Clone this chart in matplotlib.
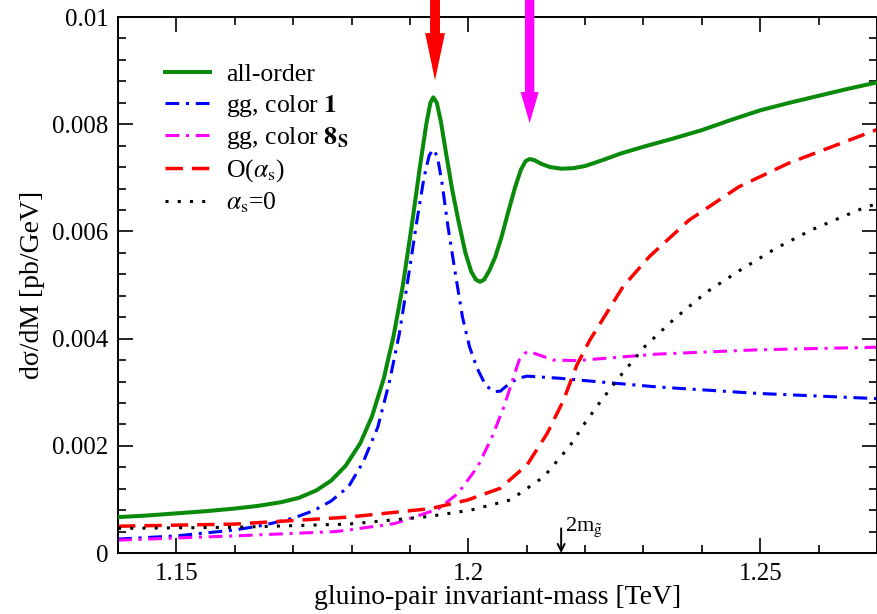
import numpy as np
import matplotlib
matplotlib.use("Agg")
import matplotlib.pyplot as plt
from matplotlib.patches import FancyArrow
from matplotlib.ticker import MultipleLocator, FuncFormatter

plt.rcParams['font.family'] = ['Liberation Serif', 'DejaVu Serif']
plt.rcParams['mathtext.fontset'] = 'stix'

# all-order (green solid)
x_all = [1.140, 1.145, 1.150, 1.155, 1.160, 1.164, 1.168, 1.171, 1.174, 1.1765,
         1.179, 1.1815, 1.1835, 1.1855, 1.1872, 1.1888, 1.1903, 1.1917, 1.1928, 1.1935,
         1.1940, 1.1946, 1.1953, 1.1962, 1.1972, 1.1983, 1.1995, 1.2005, 1.2013, 1.2020,
         1.2027, 1.2036, 1.2046, 1.2057, 1.2068, 1.2080, 1.2090, 1.2098, 1.2105, 1.2113,
         1.2125, 1.2140, 1.2160, 1.2180, 1.2200, 1.2230, 1.2260, 1.2300, 1.2350, 1.2400,
         1.2450, 1.2500, 1.2550, 1.2600, 1.2650, 1.2700]
y_all = [0.00067, 0.00070, 0.00074, 0.00078, 0.00083, 0.00088, 0.00095, 0.00103, 0.00117, 0.00135,
         0.00163, 0.00205, 0.00255, 0.00325, 0.00405, 0.00500, 0.00610, 0.00720, 0.00800, 0.00840,
         0.00850, 0.00840, 0.00805, 0.00745, 0.00680, 0.00620, 0.00560, 0.00525, 0.00510, 0.00506,
         0.00510, 0.00527, 0.00552, 0.00590, 0.00635, 0.00682, 0.00715, 0.00731, 0.00735, 0.00733,
         0.00726, 0.00720, 0.00717, 0.00718, 0.00722, 0.00733, 0.00745, 0.00758, 0.00773, 0.00789,
         0.00808, 0.00826, 0.00840, 0.00853, 0.00866, 0.00878]

# gg, color singlet (blue dash-dot)
x_c1 = [1.140, 1.150, 1.160, 1.165, 1.170, 1.1735, 1.1765, 1.1795, 1.182, 1.1845,
        1.1865, 1.1882, 1.1898, 1.1912, 1.1924, 1.1933, 1.1940, 1.1947, 1.1955, 1.1965,
        1.1978, 1.1990, 1.2002, 1.2015, 1.2030, 1.2045, 1.2055, 1.2070, 1.2085, 1.2101,
        1.2157, 1.2186, 1.2322, 1.2492, 1.2700]
y_c1 = [0.00026, 0.00032, 0.00043, 0.00052, 0.00065, 0.00079, 0.00097, 0.00124, 0.00170, 0.00235,
        0.00320, 0.00410, 0.00520, 0.00620, 0.00700, 0.00742, 0.00753, 0.00740, 0.00690, 0.00610,
        0.00520, 0.00440, 0.00385, 0.00345, 0.00312, 0.00301, 0.00302, 0.00316, 0.00326, 0.00330,
        0.00326, 0.00323, 0.00310, 0.00298, 0.00288]

# gg, color octet (magenta dash-dot)
x_c8 = [1.140, 1.160, 1.1772, 1.1795, 1.1874, 1.1948, 1.1982, 1.2016, 1.2040, 1.2061,
        1.2087, 1.2097, 1.2104, 1.2125, 1.2146, 1.2186, 1.2322, 1.2492, 1.2700]
y_c8 = [0.00024, 0.00032, 0.00040, 0.00043, 0.00055, 0.00082, 0.00111, 0.00161, 0.00215, 0.00273,
        0.00360, 0.00373, 0.00376, 0.00368, 0.00360, 0.00359, 0.00371, 0.00379, 0.00384]

# O(alpha_s) (red dashed)
x_o1 = [1.140, 1.160, 1.1795, 1.1936, 1.1999, 1.2055, 1.2101, 1.2135, 1.2163, 1.2186,
        1.2208, 1.2265, 1.2310, 1.2378, 1.2463, 1.2548, 1.2700]
y_o1 = [0.00050, 0.00054, 0.00067, 0.00083, 0.00099, 0.00121, 0.00165, 0.00223, 0.00285, 0.00351,
        0.00397, 0.00497, 0.00553, 0.00621, 0.00683, 0.00727, 0.00790]

# alpha_s = 0 (black dotted)
x_o0 = [1.140, 1.160, 1.1795, 1.1931, 1.2004, 1.2072, 1.2129, 1.2174, 1.2200, 1.2228,
        1.2257, 1.2302, 1.2353, 1.2407, 1.2466, 1.2526, 1.2588, 1.2673, 1.2700]
y_o0 = [0.00046, 0.00048, 0.00054, 0.00068, 0.00080, 0.00099, 0.00142, 0.00200, 0.00243, 0.00285,
        0.00326, 0.00385, 0.00437, 0.00486, 0.00528, 0.00568, 0.00603, 0.00642, 0.00652]

# resonance arrows: x position, tip value
arrow_x = [1.1943, 1.2105]
arrow_tip = [0.00882, 0.00802]
threshold = 1.2159   # 2 m_gluino

fig = plt.figure(figsize=(8.78, 6.14), dpi=100)
ax = fig.add_axes([0.1344, 0.0993, 0.8645, 0.873])

lw = 2.2
ax.plot(x_all, y_all, color='#0a8a0a', lw=2.9, label='all-order', zorder=5,
        solid_joinstyle='round')
ax.plot(x_c1, y_c1, color='#0000ff', lw=lw, dashes=(4.5, 2.2, 1, 2.2), label=r'gg, color $\mathbf{1}$')
ax.plot(x_c8, y_c8, color='#ff00ff', lw=lw, dashes=(4.5, 2.2, 1, 2.2), label=r'gg, color $\mathbf{8_S}$')
ax.plot(x_o1, y_o1, color='#ff0000', lw=lw + 0.3, dashes=(5, 2.6), label=r'O($\alpha_{\rm s}$)')
ax.plot(x_o0, y_o0, color='black', lw=lw, dashes=(1, 3), label=r'$\alpha_{\rm s}$=0')

ax.set_xlim(1.14, 1.27)
ax.set_ylim(0, 0.01)
ax.xaxis.set_major_locator(MultipleLocator(0.05))
ax.xaxis.set_minor_locator(MultipleLocator(0.01))
ax.yaxis.set_major_locator(MultipleLocator(0.002))
ax.yaxis.set_minor_locator(MultipleLocator(0.0004))
fmt = FuncFormatter(lambda v, p: '{:g}'.format(round(v, 6)))
ax.xaxis.set_major_formatter(fmt)
ax.yaxis.set_major_formatter(fmt)
ax.tick_params(which='both', direction='in', top=True, right=True, labelsize=18, width=1.2)
ax.tick_params(which='major', length=11, pad=7)
ax.tick_params(which='minor', length=6)
for s in ax.spines.values():
    s.set_linewidth(1.4)

ax.set_xlabel('gluino-pair invariant-mass [TeV]', fontsize=20, labelpad=0)
ax.set_ylabel('d\u03c3/dM [pb/GeV]', fontsize=20, labelpad=5)

leg = ax.legend(loc='upper left', bbox_to_anchor=(0.0487, 0.933), frameon=False, fontsize=18.5,
                handlelength=1.75, handletextpad=0.62, labelspacing=0.25, borderaxespad=0)

# big arrows marking the bound-state peaks
for xa, tip, col, w, hw, hl in zip(arrow_x, arrow_tip, ['#ff0000', '#ff00ff'],
                                   [0.0017, 0.0016], [0.0034, 0.0031], [0.00088, 0.00058]):
    top = 0.0105
    ax.add_patch(FancyArrow(xa, top, 0, tip - top, width=w, head_width=hw, head_length=hl,
                            length_includes_head=True, color=col, lw=0, clip_on=False, zorder=6))

ax.annotate('', xy=(threshold, 0), xytext=(threshold, 0.00046),
            arrowprops=dict(arrowstyle='->,head_length=0.5,head_width=0.25', lw=1.4, color='black',
                            shrinkA=0, shrinkB=0))
ax.text(threshold + 0.0006, 0.00042, r'2m$_{\tilde{\rm g}}$', fontsize=16, va='baseline', ha='left')

fig.savefig('out.png', dpi=100)
